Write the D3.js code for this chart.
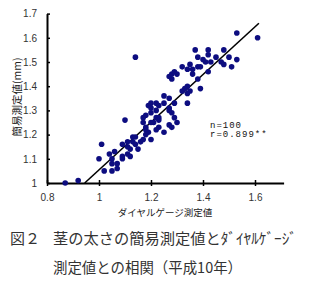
<!DOCTYPE html>
<html>
<head>
<meta charset="utf-8">
<script src="https://cdn.jsdelivr.net/npm/d3@7"></script>
<style>
  body { margin: 0; background: #fff; }
  svg { display: block; }
</style>
</head>
<body>
<div id="chart"></div>
<script>
// diameter by dial gauge (x) vs simple measurement (y), n = 100
const gaugeX = [
  0.87, 0.92, 1.00, 1.01, 1.04, 1.05, 1.05, 1.02, 1.05, 1.07,
  1.09, 1.09, 1.10, 1.06, 1.11, 1.11, 1.12, 1.13, 1.13, 1.14,
  1.16, 1.15, 1.09, 1.11, 1.19, 1.20, 1.18, 1.19, 1.21, 1.22,
  1.23, 1.22, 1.18, 1.14, 1.17, 1.20, 1.18, 1.25, 1.27, 1.28,
  1.30, 1.29, 1.28, 1.27, 1.22, 1.17, 1.20, 1.23, 1.20, 1.22,
  1.25, 1.29, 1.34, 1.25, 1.27, 1.34, 1.33, 1.35, 1.39, 1.28,
  1.28, 1.30, 1.27, 1.38, 1.32, 1.35, 1.34, 1.36, 1.36, 1.38,
  1.42, 1.37, 1.42, 1.48, 1.38, 1.42, 1.45, 1.41, 1.43, 1.47,
  1.48, 1.53, 1.51, 1.53, 1.61, 1.14, 1.39, 1.29, 1.23, 1.27,
  1.20, 1.17, 1.07, 1.12, 1.23, 1.32, 1.40, 1.50, 1.18, 1.34
];
const simpleY = [
  1.00, 1.01, 1.10, 1.16, 1.12, 1.10, 1.08, 1.05, 1.05, 1.06,
  1.16, 1.10, 1.26, 1.13, 1.17, 1.12, 1.14, 1.17, 1.19, 1.16,
  1.17, 1.14, 1.11, 1.15, 1.21, 1.18, 1.28, 1.32, 1.25, 1.27,
  1.23, 1.22, 1.23, 1.19, 1.25, 1.25, 1.22, 1.21, 1.24, 1.23,
  1.25, 1.27, 1.29, 1.31, 1.30, 1.27, 1.29, 1.27, 1.33, 1.33,
  1.33, 1.33, 1.33, 1.36, 1.35, 1.40, 1.39, 1.38, 1.39, 1.43,
  1.45, 1.45, 1.44, 1.43, 1.48, 1.49, 1.47, 1.47, 1.45, 1.48,
  1.46, 1.55, 1.55, 1.55, 1.52, 1.53, 1.52, 1.50, 1.50, 1.50,
  1.49, 1.51, 1.48, 1.62, 1.60, 1.52, 1.48, 1.46, 1.32, 1.30,
  1.31, 1.18, 1.08, 1.11, 1.26, 1.38, 1.51, 1.52, 1.20, 1.37
];

// regression line end points
const fitX = [0.945, 1.615];
const fitY = [1.0, 1.66];

const xTicks = [0.8, 1, 1.2, 1.4, 1.6];
const yTicks = [1, 1.1, 1.2, 1.3, 1.4, 1.5, 1.6, 1.7];

const width = 317, height = 284;
const numFont = "'Liberation Sans', Arial, sans-serif";
const jpFont = "'Noto Sans CJK JP', sans-serif";

const svg = d3.select("#chart").append("svg")
  .attr("width", width)
  .attr("height", height);

const x = d3.scaleLinear().domain([0.8, 1.71]).range([47, 283.6]);
const y = d3.scaleLinear().domain([1.0, 1.7]).range([183, 13.6]);

// Y axis, ticks pointing inward
const yAxisG = svg.append("g")
  .attr("transform", `translate(${x(0.8)},0)`)
  .call(d3.axisLeft(y).tickValues(yTicks).tickSizeInner(-3).tickSizeOuter(0)
    .tickPadding(10).tickFormat(d => String(d)));
yAxisG.select(".domain").attr("stroke", "#000").attr("stroke-width", 2);
yAxisG.selectAll(".tick line").attr("stroke", "#000").attr("stroke-width", 1.5);
yAxisG.selectAll(".tick text")
  .style("font-family", numFont).style("font-size", "10px").attr("fill", "#333");

// X axis, ticks crossing the line
const xAxisG = svg.append("g")
  .attr("transform", `translate(0,${y(1.0)})`)
  .call(d3.axisBottom(x).tickValues(xTicks).tickSizeInner(3).tickSizeOuter(0)
    .tickPadding(8).tickFormat(d => String(d)));
xAxisG.select(".domain").attr("stroke", "#000").attr("stroke-width", 2);
xAxisG.selectAll(".tick line").attr("y1", -3).attr("stroke", "#000").attr("stroke-width", 1.5);
xAxisG.selectAll(".tick text")
  .style("font-family", numFont).style("font-size", "10px").attr("fill", "#333");

// regression line
svg.append("line")
  .attr("x1", x(fitX[0])).attr("y1", y(fitY[0]))
  .attr("x2", x(fitX[1])).attr("y2", y(fitY[1]))
  .attr("stroke", "#000")
  .attr("stroke-width", 1.6);

// points
svg.append("g").selectAll("circle")
  .data(gaugeX.map((v, i) => [v, simpleY[i]]))
  .join("circle")
  .attr("cx", d => x(d[0]))
  .attr("cy", d => y(d[1]))
  .attr("r", 2.8)
  .attr("fill", "#0d0d80");

// stats
const stats = svg.append("g")
  .style("font-family", "'Liberation Mono', monospace")
  .style("font-size", "9px").style("letter-spacing", "1px")
  .attr("fill", "#111");
stats.append("text").attr("x", 210).attr("y", 128).text("n=100");
stats.append("text").attr("x", 210).attr("y", 137).text("r=0.899**");

// axis titles
svg.append("text")
  .attr("x", 165).attr("y", 216)
  .attr("text-anchor", "middle")
  .attr("fill", "#222")
  .style("font-family", jpFont).style("font-size", "9.5px")
  .text("ダイヤルゲージ測定値");

svg.append("text")
  .attr("transform", "translate(21,97) rotate(-90)")
  .attr("text-anchor", "middle")
  .attr("fill", "#222")
  .style("font-family", jpFont).style("font-size", "10.5px")
  .text("簡易測定値(mm)");

// caption
const caption = svg.append("g")
  .style("font-family", jpFont).style("font-size", "15px")
  .attr("fill", "#333");
caption.append("text")
  .attr("x", 10).attr("y", 244)
  .text("図２");
caption.append("text")
  .attr("x", 53).attr("y", 244)
  .attr("textLength", 244).attr("lengthAdjust", "spacingAndGlyphs")
  .text("茎の太さの簡易測定値とﾀﾞｲﾔﾙｹﾞｰｼﾞ");
caption.append("text")
  .attr("x", 53).attr("y", 273)
  .attr("textLength", 189).attr("lengthAdjust", "spacingAndGlyphs")
  .text("測定値との相関（平成10年）");
</script>
</body>
</html>
